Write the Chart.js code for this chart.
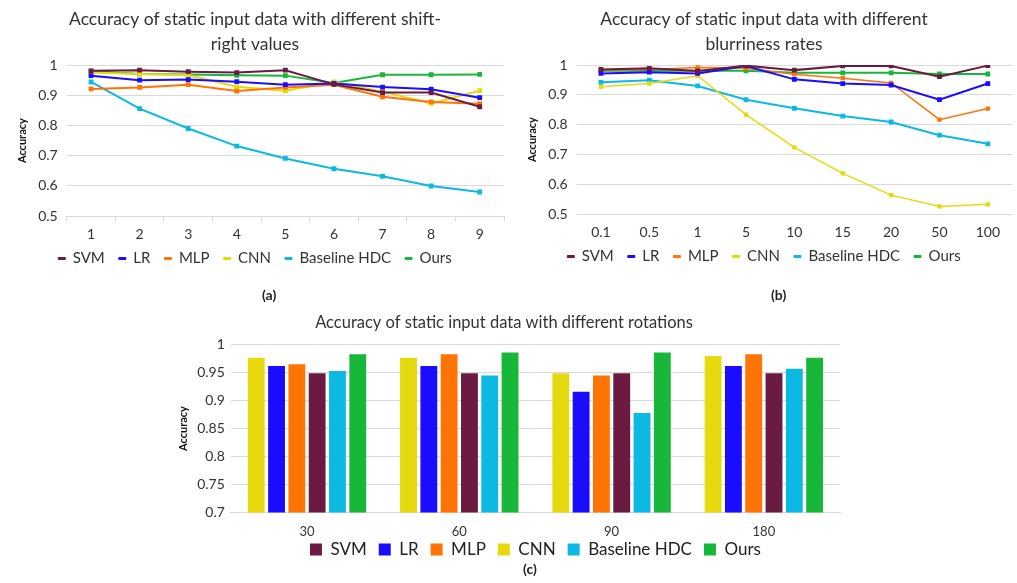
<!DOCTYPE html>
<html>
<head>
<meta charset="utf-8">
<script src="https://cdn.jsdelivr.net/npm/chart.js@4/dist/chart.umd.min.js"></script>
<style>
body{margin:0;background:#fff;width:1017px;height:583px;position:relative;overflow:hidden;font-family:Lato,sans-serif}
canvas{position:absolute}
.cap{position:absolute;font-weight:bold;font-size:14px;color:#222}
</style>
</head>
<body>
<canvas id="ShiftChart" width="520" height="295" style="left:0;top:0"></canvas>
<canvas id="BlurChart" width="507" height="295" style="left:510px;top:0"></canvas>
<canvas id="RotChart" width="720" height="275" style="left:140px;top:308px"></canvas>
<div class="cap" style="left:262px;top:286px">(a)</div>
<div class="cap" style="left:771px;top:286px">(b)</div>
<div class="cap" style="left:523px;top:560px">(c)</div>
<script>
// x labels
let ShiftLabels = ["1","2","3","4","5","6","7","8","9"]
let BlurLabels = ["0.1","0.5","1","5","10","15","20","50","100"]
let RotLabels = ["30","60","90","180"]

let Names = ["SVM","LR","MLP","CNN","Baseline HDC","Ours"]
let Colors = ["#6b1a42","#1a0cff","#ff7405","#e6da0e","#0cb9e3","#17b83a"]

// (a) shift-right
let ShiftSVM = [0.981,0.983,0.978,0.975,0.983,0.936,0.909,0.909,0.862]
let ShiftLR = [0.965,0.950,0.952,0.945,0.935,0.939,0.927,0.920,0.892]
let ShiftMLP = [0.921,0.926,0.935,0.914,0.926,0.935,0.895,0.878,0.872]
let ShiftCNN = [0.975,0.970,0.967,0.928,0.915,0.944,0.912,0.873,0.915]
let ShiftHDC = [0.944,0.856,0.790,0.732,0.691,0.657,0.632,0.600,0.580]
let ShiftOurs = [0.980,0.970,0.969,0.966,0.965,0.941,0.968,0.968,0.969]

// (b) blurriness
let BlurSVM = [0.985,0.989,0.980,0.998,0.983,0.997,0.997,0.961,0.998]
let BlurLR = [0.972,0.976,0.972,0.997,0.952,0.938,0.933,0.884,0.938]
let BlurMLP = [0.983,0.985,0.992,0.989,0.969,0.956,0.940,0.817,0.854]
let BlurCNN = [0.927,0.938,0.964,0.834,0.724,0.637,0.564,0.526,0.533]
let BlurHDC = [0.942,0.949,0.930,0.884,0.855,0.829,0.809,0.765,0.736]
let BlurOurs = [0.981,0.981,0.981,0.981,0.974,0.974,0.974,0.970,0.970]

// (c) rotations
let RotSVM = [0.949,0.949,0.949,0.949]
let RotLR = [0.962,0.962,0.916,0.962]
let RotMLP = [0.965,0.983,0.945,0.983]
let RotCNN = [0.977,0.977,0.949,0.980]
let RotHDC = [0.953,0.945,0.878,0.957]
let RotOurs = [0.983,0.986,0.986,0.977]
// bar slot inside each group (CNN first in the picture)
let RotSlot = [3,1,2,0,4,5]

Chart.defaults.font.family = "Lato, 'Open Sans', sans-serif"
Chart.defaults.color = "#333"
let GridColor = "#d9d9d9"
let fmt = v => String(Math.round(v*100)/100)

// pulls the legend up closer to the axis (legend padding also sets item spacing)
let legendShift = {
  id: "legendShift",
  afterUpdate(chart, args, opts){
    let l = chart.legend
    if (!l) return
    l.top -= opts.dy || 0
    l.bottom -= opts.dy || 0
  }
}

function lineSets(rows, widths){
  return rows.map((d,i) => ({
    label: Names[i], data: d,
    borderColor: Colors[i], backgroundColor: Colors[i],
    borderWidth: widths[i], pointRadius: 2, pointHoverRadius: 2,
    pointStyle: "rect", tension: 0
  }))
}

function lineOptions(title, o){
  return {
    responsive: false, animation: false,
    layout: {padding: {left: 6, right: o.right, bottom: o.bottom}},
    plugins: {
      title: {display: true, text: title, font: {size: 17.5, weight: "normal", lineHeight: 1.43},
              color: "#333", padding: {top: 7, bottom: 8}},
      legend: {
        position: "bottom",
        labels: {
          font: {size: 15}, color: "#333", boxWidth: 7, boxHeight: 2, padding: 14,
          generateLabels: chart => Chart.defaults.plugins.legend.labels.generateLabels(chart)
            .map(l => Object.assign(l, {lineWidth: 1}))
        }
      },
      legendShift: {dy: o.dy},
      tooltip: {enabled: false}
    },
    scales: {
      x: {
        offset: true,
        grid: {display: o.marks, offset: true, drawOnChartArea: false, tickLength: 5, color: GridColor},
        border: {display: o.marks, color: GridColor},
        ticks: {font: {size: 14}, color: "#333", padding: o.xpad}
      },
      y: {
        min: 0.5, max: 1,
        ticks: {stepSize: 0.1, font: {size: 14}, color: "#333", callback: fmt, padding: 9},
        grid: {color: GridColor, tickLength: 0},
        border: {display: false},
        title: {display: true, text: "Accuracy", font: {size: 11, weight: "bold"}, color: "#111",
                padding: {top: 10, bottom: 0}}
      }
    }
  }
}

new Chart(document.getElementById("ShiftChart").getContext("2d"), {
  type: "line",
  data: {labels: ShiftLabels,
    datasets: lineSets([ShiftSVM,ShiftLR,ShiftMLP,ShiftCNN,ShiftHDC,ShiftOurs],[2,2,2,2,2,2])},
  options: lineOptions(["Accuracy of static input data with different shift-","right values"],
    {marks: true, right: 16, bottom: 8, xpad: 5, dy: 11}),
  plugins: [legendShift]
})

new Chart(document.getElementById("BlurChart").getContext("2d"), {
  type: "line",
  data: {labels: BlurLabels,
    datasets: lineSets([BlurSVM,BlurLR,BlurMLP,BlurCNN,BlurHDC,BlurOurs],[2,2,1.5,1.5,2,2])},
  options: lineOptions(["Accuracy of static input data with different","blurriness rates"],
    {marks: false, right: 5, bottom: 10, xpad: 5, dy: 11}),
  plugins: [legendShift]
})

let RotData = [RotSVM,RotLR,RotMLP,RotCNN,RotHDC,RotOurs]
new Chart(document.getElementById("RotChart").getContext("2d"), {
  type: "bar",
  data: {labels: RotLabels,
    datasets: RotData.map((d,i) => ({
      label: Names[i], data: d, backgroundColor: Colors[i], order: RotSlot[i],
      categoryPercentage: 0.8, barPercentage: 0.83
    }))},
  options: {
    responsive: false, animation: false,
    layout: {padding: {left: 28, right: 20}},
    plugins: {
      title: {display: true, text: "Accuracy of static input data with different rotations",
              font: {size: 16.5, weight: "normal"}, color: "#333", padding: {top: 5, bottom: 12}},
      legend: {position: "bottom", fullSize: false,
        labels: {font: {size: 17}, color: "#222", boxWidth: 12, boxHeight: 12, padding: 12,
          sort: (a,b) => a.datasetIndex - b.datasetIndex}},
      legendShift: {dy: 15},
      tooltip: {enabled: false}
    },
    scales: {
      x: {grid: {display: false}, border: {color: GridColor},
          ticks: {font: {size: 13}, color: "#333", padding: 4}},
      y: {min: 0.7, max: 1,
          ticks: {stepSize: 0.05, font: {size: 14}, color: "#333", callback: fmt, padding: 6},
          grid: {color: GridColor, tickLength: 0}, border: {display: false},
          title: {display: true, text: "Accuracy", font: {size: 11, weight: "bold"}, color: "#111",
                  padding: {top: 8.5, bottom: 1.5}}}
    }
  },
  plugins: [legendShift]
})
</script>
</body>
</html>
